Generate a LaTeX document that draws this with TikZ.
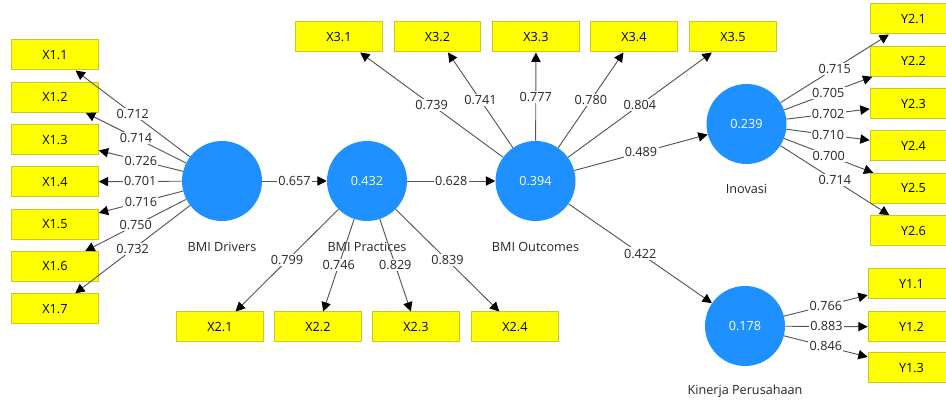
\documentclass[tikz,border=0pt]{standalone}
\usepackage{fontspec}
\setmainfont{Open Sans}
\usetikzlibrary{arrows.meta}
\definecolor{lvblue}{RGB}{30,144,255}
\definecolor{indyellow}{RGB}{255,255,0}
\definecolor{indedge}{RGB}{200,200,40}
\definecolor{pathgray}{RGB}{85,85,85}
\tikzset{
ind/.style={draw=indedge, fill=indyellow, line width=0.75pt, minimum width=65pt,
  minimum height=22.5pt, inner sep=0pt, font=\fontsize{9.5}{11}\selectfont},
lv/.style={circle, fill=lvblue, minimum size=60pt, inner sep=0pt, text=white,
  font=\fontsize{9.5}{11}\selectfont},
lvname/.style={inner sep=0pt, text=black!85, font=\fontsize{9.5}{11}\selectfont},
coef/.style={fill=white, inner sep=1pt, pos=0.5, text=black!85, font=\fontsize{9.5}{11}\selectfont},
pth/.style={draw=pathgray, line width=0.7pt, -{Triangle[length=7pt,width=7pt,color=black]}}
}
\begin{document}
\begin{tikzpicture}[x=0.75pt, y=-0.75pt]
\useasboundingbox (0,0) rectangle (946,402);
\clip (0,0) rectangle (946,402);
% latent variables
\node[lv] (drv) at (222,181) {};
\node[lv] (prc) at (367,181) {0.432};
\node[lv] (out) at (535.5,181) {0.394};
\node[lv] (ino) at (746.5,124) {0.239};
\node[lv] (kin) at (745,326) {0.178};
\node[lvname] (drvname) at (222,247) {BMI Drivers};
\node[lvname] (prcname) at (367,247) {BMI Practices};
\node[lvname] (outname) at (535.5,247) {BMI Outcomes};
\node[lvname] (inoname) at (746.5,189) {Inovasi};
\node[lvname] (kinname) at (745,391) {Kinerja Perusahaan};
% indicators
\node[ind] (x11) at (55,55) {X1.1};
\node[ind] (x12) at (55,97.3) {X1.2};
\node[ind] (x13) at (55,139.6) {X1.3};
\node[ind] (x14) at (55,181.9) {X1.4};
\node[ind] (x15) at (55,224.2) {X1.5};
\node[ind] (x16) at (55,266.5) {X1.6};
\node[ind] (x17) at (55,308.8) {X1.7};
\node[ind] (x21) at (220,327) {X2.1};
\node[ind] (x22) at (318,327) {X2.2};
\node[ind] (x23) at (416,327) {X2.3};
\node[ind] (x24) at (515,327) {X2.4};
\node[ind] (x31) at (339,37) {X3.1};
\node[ind] (x32) at (437.5,37) {X3.2};
\node[ind] (x33) at (536,37) {X3.3};
\node[ind] (x34) at (634,37) {X3.4};
\node[ind] (x35) at (733,37) {X3.5};
\node[ind] (y21) at (913.5,19) {Y2.1};
\node[ind] (y22) at (913.5,61.3) {Y2.2};
\node[ind] (y23) at (913.5,103.6) {Y2.3};
\node[ind] (y24) at (913.5,146) {Y2.4};
\node[ind] (y25) at (913.5,188.3) {Y2.5};
\node[ind] (y26) at (913.5,230.6) {Y2.6};
\node[ind] (y11) at (911.5,284) {Y1.1};
\node[ind] (y12) at (911.5,327) {Y1.2};
\node[ind] (y13) at (911.5,368) {Y1.3};
% outer loadings
\draw[pth] (drv) -- node[coef] {0.712} (x11);
\draw[pth] (drv) -- node[coef] {0.714} (x12);
\draw[pth] (drv) -- node[coef] {0.726} (x13);
\draw[pth] (drv) -- node[coef] {0.701} (x14);
\draw[pth] (drv) -- node[coef] {0.716} (x15);
\draw[pth] (drv) -- node[coef] {0.750} (x16);
\draw[pth] (drv) -- node[coef] {0.732} (x17);
\draw[pth] (prc) -- node[coef] {0.799} (x21);
\draw[pth] (prc) -- node[coef] {0.746} (x22);
\draw[pth] (prc) -- node[coef] {0.829} (x23);
\draw[pth] (prc) -- node[coef] {0.839} (x24);
\draw[pth] (out) -- node[coef] {0.739} (x31);
\draw[pth] (out) -- node[coef] {0.741} (x32);
\draw[pth] (out) -- node[coef] {0.777} (x33);
\draw[pth] (out) -- node[coef] {0.780} (x34);
\draw[pth] (out) -- node[coef] {0.804} (x35);
\draw[pth] (ino) -- node[coef] {0.715} (y21);
\draw[pth] (ino) -- node[coef] {0.705} (y22);
\draw[pth] (ino) -- node[coef] {0.702} (y23);
\draw[pth] (ino) -- node[coef] {0.710} (y24);
\draw[pth] (ino) -- node[coef] {0.700} (y25);
\draw[pth] (ino) -- node[coef] {0.714} (y26);
\draw[pth] (kin) -- node[coef] {0.766} (y11);
\draw[pth] (kin) -- node[coef] {0.883} (y12);
\draw[pth] (kin) -- node[coef] {0.846} (y13);
% path coefficients
\draw[pth] (drv) -- node[coef] {0.657} (prc);
\draw[pth] (prc) -- node[coef] {0.628} (out);
\draw[pth] (out) -- node[coef] {0.489} (ino);
\draw[pth] (out) -- node[coef] {0.422} (kin);
\end{tikzpicture}
\end{document}
